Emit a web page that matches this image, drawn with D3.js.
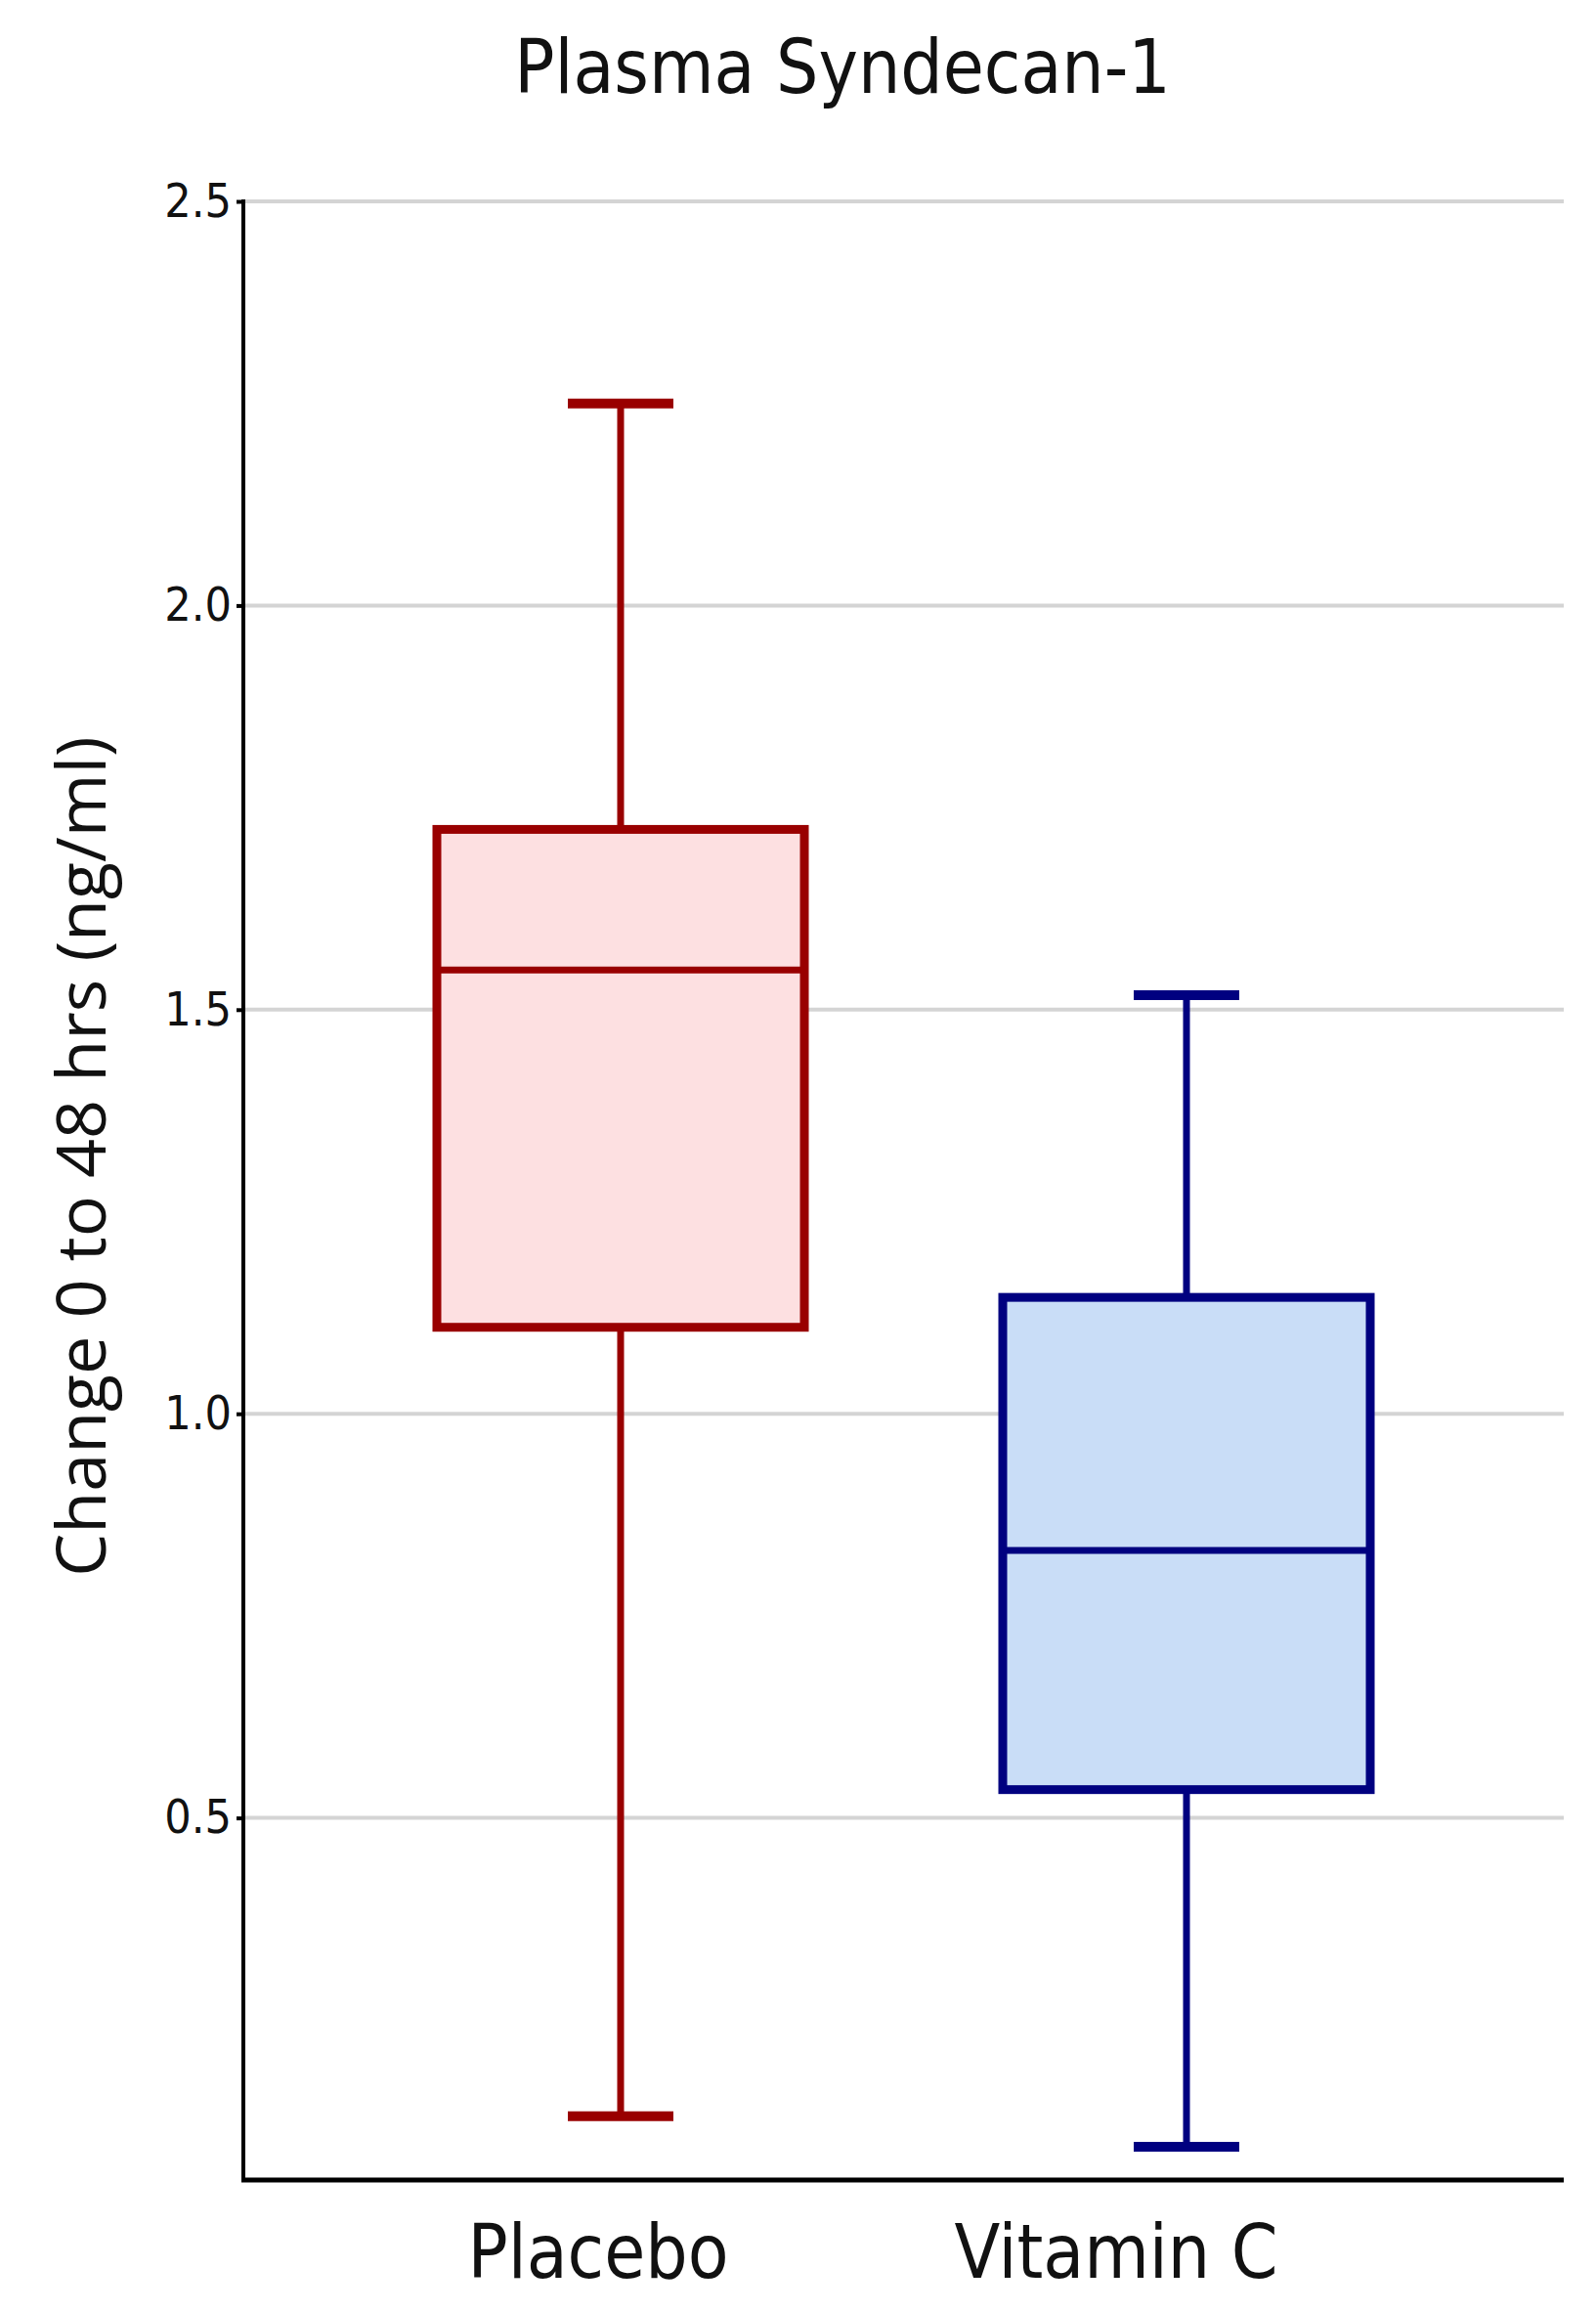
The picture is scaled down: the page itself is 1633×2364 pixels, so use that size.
<!DOCTYPE html>
<html><head><meta charset="utf-8">
<script src="https://cdn.jsdelivr.net/npm/d3@7/dist/d3.min.js"></script>
<style>body{margin:0;background:#fff}</style></head>
<body><svg id="c" width="1633" height="2364"></svg>
<script>
const categories = ["Placebo", "Vitamin C"];
const whiskerLow = [0.131, 0.093];
const q1 = [1.107, 0.535];
const median = [1.549, 0.831];
const q3 = [1.723, 1.144];
const whiskerHigh = [2.25, 1.518];
const yTicks = [0.5, 1.0, 1.5, 2.0, 2.5];
const strokes = ["#990000", "#000080"];
const fills = ["#fde0e1", "#c9ddf7"];

const svg = d3.select("#c");
const L = 249, R = 1600, T = 206, B = 2230;
const y = d3.scaleLinear().domain([0.052, 2.5]).range([B, T]);
const x = d3.scalePoint().domain(categories).range([635, 1214]);
const xl = d3.scalePoint().domain(categories).range([612, 1142]);
const boxW = 376;

svg.append("g").selectAll("line").data(yTicks).join("line")
  .attr("x1", L).attr("x2", R).attr("y1", d => y(d)).attr("y2", d => y(d))
  .attr("stroke", "#d4d4d4").attr("stroke-width", 4);

const ya = svg.append("g").attr("transform", `translate(${L},0)`)
  .call(d3.axisLeft(y).tickValues(yTicks).tickFormat(d3.format(".1f")).tickSize(7).tickSizeOuter(0));
ya.select(".domain").remove();
ya.selectAll(".tick line").attr("stroke", "#000").attr("stroke-width", 4);
ya.selectAll("text").attr("font-family", "'DejaVu Sans Condensed','Open Sans',sans-serif")
  .attr("font-size", 48).attr("fill", "#111").attr("dx", -2);
svg.append("line").attr("x1", L).attr("x2", L).attr("y1", T - 2).attr("y2", B + 2).attr("stroke", "#000").attr("stroke-width", 4);
svg.append("line").attr("x1", L - 2).attr("x2", R).attr("y1", B).attr("y2", B).attr("stroke", "#000").attr("stroke-width", 5);

const g = svg.append("g").selectAll("g").data(categories).join("g");
const cx = (d) => x(d);
const capW = 108;
g.append("line").attr("x1", cx).attr("x2", cx)
  .attr("y1", (d, i) => y(whiskerHigh[i])).attr("y2", (d, i) => y(q3[i]))
  .attr("stroke", (d, i) => strokes[i]).attr("stroke-width", 7);
g.append("line").attr("x1", cx).attr("x2", cx)
  .attr("y1", (d, i) => y(q1[i])).attr("y2", (d, i) => y(whiskerLow[i]))
  .attr("stroke", (d, i) => strokes[i]).attr("stroke-width", 7);
[whiskerHigh, whiskerLow].forEach(arr => {
  g.append("line").attr("x1", d => cx(d) - capW / 2).attr("x2", d => cx(d) + capW / 2)
    .attr("y1", (d, i) => y(arr[i])).attr("y2", (d, i) => y(arr[i]))
    .attr("stroke", (d, i) => strokes[i]).attr("stroke-width", 10);
});
g.append("rect").attr("x", d => cx(d) - boxW / 2).attr("width", boxW)
  .attr("y", (d, i) => y(q3[i])).attr("height", (d, i) => y(q1[i]) - y(q3[i]))
  .attr("fill", (d, i) => fills[i]).attr("stroke", (d, i) => strokes[i]).attr("stroke-width", 9);
g.append("line").attr("x1", d => cx(d) - boxW / 2).attr("x2", d => cx(d) + boxW / 2)
  .attr("y1", (d, i) => y(median[i])).attr("y2", (d, i) => y(median[i]))
  .attr("stroke", (d, i) => strokes[i]).attr("stroke-width", 7);

g.append("text").attr("x", d => xl(d)).attr("y", 2330).attr("text-anchor", "middle")
  .attr("font-family", "'DejaVu Sans Condensed','Open Sans',sans-serif").attr("font-size", 76).attr("fill", "#111")
  .text(d => d);

svg.append("text").attr("x", 862).attr("y", 95).attr("text-anchor", "middle")
  .attr("font-family", "'DejaVu Sans Condensed','Open Sans',sans-serif").attr("font-size", 76).attr("fill", "#111")
  .text("Plasma Syndecan-1");

svg.append("text").attr("transform", `translate(108,${(T + B) / 2 - 35}) rotate(-90)`).attr("text-anchor", "middle")
  .attr("font-family", "'Open Sans',sans-serif").attr("font-size", 70).attr("fill", "#111")
  .text("Change 0 to 48 hrs (ng/ml)");
</script></body></html>
